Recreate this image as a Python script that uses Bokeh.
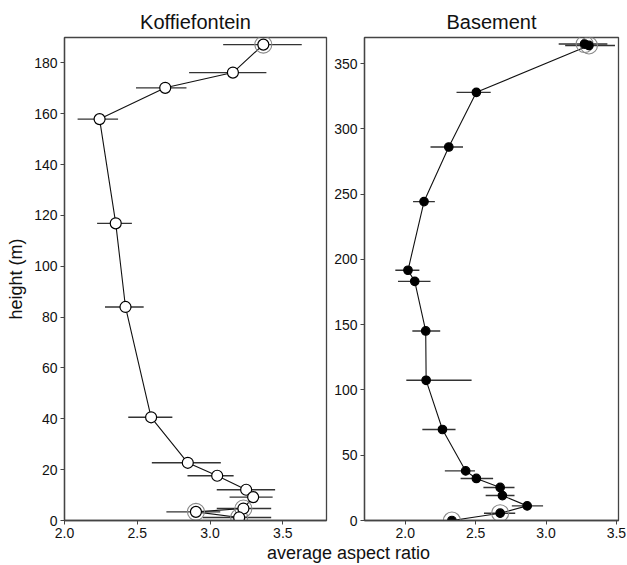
from bokeh.plotting import figure
from bokeh.models import Range1d, FixedTicker, Div, ColumnDataSource, PrintfTickFormatter
from bokeh.layouts import row, column
from bokeh.embed import file_html
from bokeh.resources import INLINE

# ---------------- data ----------------
# Koffiefontein
k_height = [187.2, 176.2, 170.2, 157.9, 116.9, 84.0, 40.6, 22.7, 17.6, 12.1, 9.2, 4.7, 3.4, 1.2]
k_ratio = [3.366, 3.157, 2.692, 2.241, 2.352, 2.419, 2.595, 2.847, 3.049, 3.248, 3.296, 3.229, 2.903, 3.200]
k_lo = [3.09, 2.856, 2.491, 2.09, 2.224, 2.278, 2.438, 2.60, 2.845, 3.046, 3.134, 3.046, 2.70, 2.95]
k_hi = [3.63, 3.387, 2.838, 2.368, 2.463, 2.544, 2.741, 3.074, 3.162, 3.447, 3.43, 3.42, 3.07, 3.42]
k_circled = [True, False, False, False, False, False, False, False, False, False, False, True, True, True]

# Basement
b_height = [365.0, 363.9, 328.0, 286.1, 244.3, 191.7, 183.2, 145.2, 107.4, 69.7, 38.0, 32.2, 25.3, 19.1, 11.2, 5.6, 0.0]
b_ratio = [3.274, 3.305, 2.505, 2.309, 2.133, 2.019, 2.067, 2.145, 2.148, 2.264, 2.429, 2.505, 2.674, 2.690, 2.866, 2.674, 2.331]
b_lo = [3.09, 3.136, 2.364, 2.179, 2.055, 1.929, 1.948, 2.05, 2.007, 2.121, 2.281, 2.393, 2.555, 2.571, 2.757, 2.559, 2.31]
b_hi = [3.436, 3.49, 2.607, 2.41, 2.21, 2.10, 2.179, 2.248, 2.471, 2.357, 2.495, 2.624, 2.776, 2.776, 2.979, 2.781, 2.35]
b_circled = [True, True, False, False, False, False, False, False, False, False, False, False, False, False, False, True, True]

k_xticks = [2.0, 2.5, 3.0, 3.5]
k_yticks = [0, 20, 40, 60, 80, 100, 120, 140, 160, 180]
b_xticks = [2.0, 2.5, 3.0, 3.5]
b_yticks = [0, 50, 100, 150, 200, 250, 300, 350]

FONT = "Liberation Sans"


def style(p, xticks, yticks):
    p.outline_line_color = "#444444"
    p.outline_line_width = 1.3
    p.xgrid.visible = False
    p.ygrid.visible = False
    for ax in (p.xaxis[0], p.yaxis[0]):
        ax.axis_line_color = "#444444"
        ax.axis_line_width = 1.3
        ax.major_tick_line_color = "#444444"
        ax.major_tick_out = 4
        ax.major_tick_in = 0
        ax.minor_tick_line_color = None
        ax.major_label_text_font = FONT
        ax.major_label_text_font_size = "14px"
        ax.major_label_text_color = "#111111"
        ax.major_label_standoff = 3
    p.xaxis[0].ticker = FixedTicker(ticks=xticks)
    p.xaxis[0].formatter = PrintfTickFormatter(format="%.1f")
    p.yaxis[0].ticker = FixedTicker(ticks=yticks)
    p.title.text_font = FONT
    p.title.text_font_size = "20px"
    p.title.text_font_style = "normal"
    p.title.align = "center"
    p.title.text_color = "#111111"
    p.title.standoff = 9


def draw(p, h, r, lo, hi, circ, fill):
    src = ColumnDataSource(dict(h=h, r=r, lo=lo, hi=hi))
    p.segment(x0="lo", y0="h", x1="hi", y1="h", source=src, line_color="#333333", line_width=1.4)
    p.line(x="r", y="h", source=src, line_color="#111111", line_width=1.1)
    ch = [v for v, c in zip(h, circ) if c]
    cr = [v for v, c in zip(r, circ) if c]
    p.scatter(cr, ch, size=17, fill_color=None, line_color="#888888", line_width=1.1)
    p.scatter(x="r", y="h", source=src, size=11 if fill == "white" else 8.5,
              fill_color=fill, line_color="#000000", line_width=1.2)


H = 544
p1 = figure(width=330, height=H, title="Koffiefontein", output_backend="svg", toolbar_location=None,
            x_range=Range1d(2.0, 3.8), y_range=Range1d(0, 190),
            min_border_left=64, min_border_right=4, min_border_top=37, min_border_bottom=24)
style(p1, k_xticks, k_yticks)
p1.yaxis.axis_label = "height (m)"
p1.yaxis.axis_label_text_font = FONT
p1.yaxis.axis_label_text_font_size = "18px"
p1.yaxis.axis_label_text_font_style = "normal"
p1.yaxis.axis_label_text_color = "#111111"
p1.yaxis.axis_label_standoff = 5
draw(p1, k_height, k_ratio, k_lo, k_hi, k_circled, "white")

p2 = figure(width=297, height=H, title="Basement", output_backend="svg", toolbar_location=None,
            x_range=Range1d(1.71, 3.515), y_range=Range1d(0, 370),
            min_border_left=34, min_border_right=9, min_border_top=37, min_border_bottom=24)
style(p2, b_xticks, b_yticks)
draw(p2, b_height, b_ratio, b_lo, b_hi, b_circled, "black")

label = Div(text='<div style="font-family:\'Liberation Sans\';font-size:18px;line-height:18px;'
                 'text-align:center;color:#111;width:627px;padding-left:70px;box-sizing:border-box">'
                 'average aspect ratio</div>',
            width=627, height=20, margin=0)

layout = column(row(p1, p2), label)

open("out.html", "w").write(file_html(layout, INLINE))
